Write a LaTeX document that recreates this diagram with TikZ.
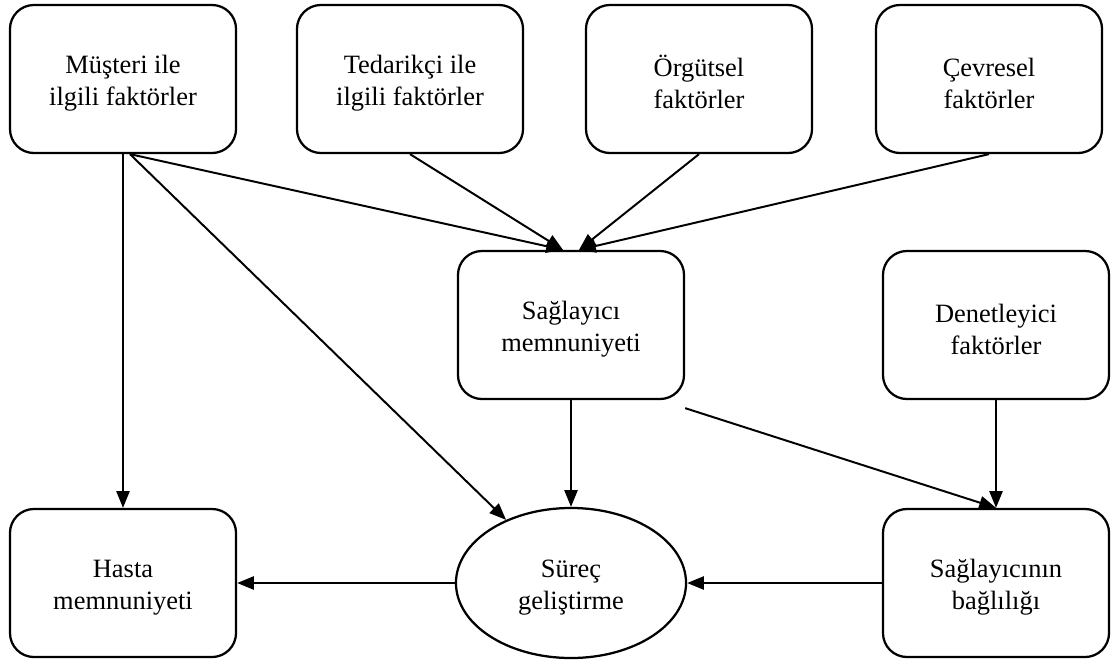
\documentclass[tikz,border=0pt]{standalone}
\usepackage{fontspec}
\setmainfont{Liberation Serif}
\usetikzlibrary{arrows.meta,positioning,shapes.geometric,calc}

\newcommand{\topgap}{\rule{0pt}{19pt}}

\begin{document}
\begin{tikzpicture}[
  x=0.025cm, y=-0.025cm,
  box/.style={draw, line width=1.6pt, rounded corners=0.6cm, minimum width=5.65cm, minimum height=3.7cm,
              font=\fontsize{18.8}{22.5}\selectfont, align=center},
  oval/.style={draw, line width=1.6pt, ellipse, minimum width=5.75cm, minimum height=3.75cm, inner sep=0pt,
              font=\fontsize{18.8}{22.5}\selectfont, align=center},
  link/.style={line width=1.4pt, -{Triangle[length=0.42cm,width=0.33cm]}}
]
  \useasboundingbox (0,0) rectangle (1115,664);

  % top row
  \node[box] (musteri)  at (123,79)  {\topgap Müşteri ile\\ilgili faktörler};
  \node[box] (tedarik)  at (410,79)  {\topgap Tedarikçi ile\\ilgili faktörler};
  \node[box] (orgut)    at (699,79)  {\topgap Örgütsel\\faktörler};
  \node[box] (cevre)    at (989,79)  {\topgap Çevresel\\faktörler};

  % middle row
  \node[box] (saglayici) at (571,325) {\topgap Sağlayıcı\\memnuniyeti};
  \node[box] (denet)     at (996,325) {\topgap Denetleyici\\faktörler};

  % bottom row
  \node[box]  (hasta)  at (123,583) {\topgap Hasta\\memnuniyeti};
  \node[oval] (surec)  at (571,583) {\topgap Süreç\\geliştirme};
  \node[box]  (bagli)  at (996,583) {\topgap Sağlayıcının\\bağlılığı};

  \coordinate (mstart) at ($(musteri.south)+(7,0)$);
  \coordinate (sagL)   at ($(saglayici.north)+(-8,0)$);
  \coordinate (sagR)   at ($(saglayici.north)+(8,0)$);

  \draw[link] (musteri.south) -- (hasta.north);
  \draw[link] (mstart) -- (surec);
  \draw[link] (mstart) -- (sagL);
  \draw[link] (tedarik.south) -- (sagL);
  \draw[link] (orgut.south) -- (sagR);
  \draw[link] (cevre.south) -- (sagR);

  \draw[link] (saglayici.south) -- (surec.north);
  \draw[link] ($(saglayici.south east)+(0,8)$) -- (bagli.north);
  \draw[link] (denet.south) -- (bagli.north);
  \draw[link] (bagli.west) -- (surec.east);
  \draw[link] (surec.west) -- (hasta.east);
\end{tikzpicture}
\end{document}
